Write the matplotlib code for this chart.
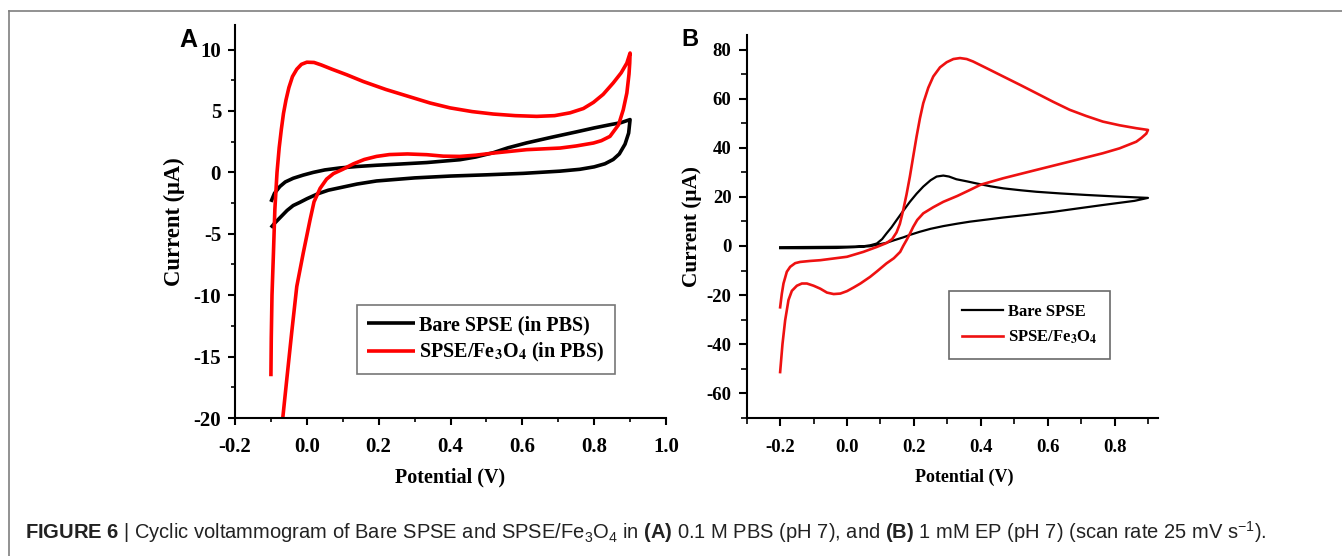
import matplotlib
matplotlib.use("Agg")
import matplotlib.pyplot as plt
from matplotlib.ticker import MultipleLocator
from matplotlib.font_manager import FontProperties
from matplotlib.lines import Line2D

# ---- panel A: 0.1 M PBS ----
a_bare_v = [-0.100, -0.090, -0.075, -0.055, -0.038, -0.020, 0.000, 0.030, 0.060, 0.092,
            0.140, 0.194, 0.300, 0.400, 0.500, 0.603, 0.705, 0.760, 0.800, 0.830,
            0.853, 0.870, 0.886, 0.896, 0.900,
            0.895, 0.875, 0.844, 0.800, 0.751, 0.680, 0.612, 0.560, 0.519, 0.470,
            0.426, 0.334, 0.260, 0.194, 0.140, 0.092, 0.050, 0.018, -0.010, -0.038,
            -0.060, -0.075, -0.090, -0.100]
a_bare_i = [-4.50, -4.15, -3.70, -3.10, -2.70, -2.45, -2.15, -1.75, -1.45, -1.25,
            -0.95, -0.70, -0.45, -0.30, -0.20, -0.08, 0.10, 0.25, 0.45, 0.70,
            1.05, 1.50, 2.30, 3.20, 4.30,
            4.25, 4.05, 3.88, 3.62, 3.30, 2.85, 2.40, 2.00, 1.60, 1.25,
            1.03, 0.80, 0.68, 0.58, 0.48, 0.36, 0.20, 0.00, -0.22, -0.48,
            -0.78, -1.15, -1.70, -2.40]

a_fe_v = [-0.100, -0.099, -0.097, -0.093, -0.089, -0.083, -0.077, -0.071, -0.065, -0.058,
          -0.050, -0.040, -0.028, -0.015, 0.000, 0.020, 0.040, 0.070, 0.111, 0.157,
          0.220, 0.287, 0.343, 0.399, 0.460, 0.519, 0.580, 0.640, 0.690, 0.733,
          0.770, 0.798, 0.825, 0.853, 0.875, 0.891, 0.900,
          0.899, 0.897, 0.891, 0.881, 0.868, 0.844, 0.820, 0.798, 0.750, 0.705,
          0.612, 0.519, 0.470, 0.426, 0.380, 0.334, 0.280, 0.230, 0.194, 0.160,
          0.130, 0.100, 0.074, 0.055, 0.037, 0.020, 0.009, -0.010, -0.028, -0.042,
          -0.056, -0.067, -0.072]
a_fe_i = [-16.60, -13.50, -10.00, -6.60, -3.00, 0.00, 2.00, 3.50, 4.80, 5.90,
          6.90, 7.80, 8.40, 8.80, 8.97, 8.95, 8.75, 8.40, 7.95, 7.40,
          6.75, 6.15, 5.65, 5.25, 4.95, 4.75, 4.62, 4.56, 4.62, 4.85,
          5.20, 5.70, 6.35, 7.28, 8.10, 8.90, 9.72,
          8.90, 8.00, 6.46, 5.10, 3.88, 2.93, 2.58, 2.39, 2.15, 1.98,
          1.85, 1.57, 1.40, 1.30, 1.32, 1.44, 1.50, 1.45, 1.30, 1.05,
          0.70, 0.25, -0.10, -0.55, -1.30, -2.40, -3.86, -6.57, -9.29, -13.00,
          -16.90, -20.00, -21.50]

# ---- panel B: 1 mM EP ----
b_bare_v = [-0.200, -0.100, 0.000, 0.050, 0.070, 0.089, 0.105, 0.118, 0.133, 0.148,
            0.168, 0.188, 0.208, 0.228, 0.250, 0.268, 0.288, 0.305, 0.327, 0.360,
            0.387, 0.430, 0.467, 0.520, 0.566, 0.640, 0.715, 0.800, 0.900,
            0.860, 0.765, 0.690, 0.616, 0.540, 0.467, 0.420, 0.367, 0.330, 0.288,
            0.250, 0.218, 0.190, 0.168, 0.140, 0.118, 0.090, 0.069, 0.020, -0.031,
            -0.130, -0.200]
b_bare_i = [-0.5, -0.4, -0.3, -0.1, 0.3, 1.0, 2.8, 5.1, 7.6, 10.5,
            14.3, 18.0, 21.3, 24.2, 26.8, 28.3, 28.7, 28.3, 27.2, 26.3,
            25.5, 24.3, 23.5, 22.7, 22.1, 21.4, 20.8, 20.2, 19.6,
            18.4, 16.7, 15.3, 13.9, 12.7, 11.6, 10.8, 9.9, 9.1, 8.1,
            7.0, 5.8, 4.6, 3.5, 2.3, 1.3, 0.5, -0.1, -0.5, -0.8,
            -0.9, -0.9]

b_fe_v = [-0.200, -0.195, -0.190, -0.180, -0.170, -0.155, -0.140, -0.110, -0.080, -0.040,
          0.000, 0.049, 0.089, 0.118, 0.135, 0.148, 0.158, 0.168, 0.178, 0.188,
          0.198, 0.208, 0.218, 0.228, 0.243, 0.258, 0.278, 0.298, 0.318, 0.338,
          0.358, 0.377, 0.420, 0.467, 0.520, 0.566, 0.616, 0.666, 0.715, 0.765,
          0.815, 0.865, 0.900,
          0.895, 0.880, 0.865, 0.815, 0.765, 0.666, 0.566, 0.467, 0.400, 0.367,
          0.330, 0.288, 0.258, 0.228, 0.210, 0.198, 0.188, 0.178, 0.168, 0.159,
          0.140, 0.118, 0.090, 0.069, 0.040, 0.020, 0.000, -0.020, -0.040, -0.060,
          -0.080, -0.100, -0.120, -0.135, -0.150, -0.165, -0.175, -0.185, -0.193, -0.200]
b_fe_i = [-25.0, -19.5, -15.3, -10.5, -8.5, -7.0, -6.5, -6.1, -5.8, -5.1,
          -4.4, -2.4, -0.4, 1.2, 2.8, 5.5, 9.0, 14.6, 21.0, 28.3,
          36.5, 44.6, 52.0, 58.2, 64.5, 69.1, 72.8, 74.9, 76.2, 76.6,
          76.2, 75.2, 72.3, 69.1, 65.5, 62.3, 58.8, 55.5, 53.0, 50.7,
          49.2, 48.0, 47.3,
          45.8, 44.0, 42.5, 39.8, 37.8, 34.4, 31.0, 27.6, 25.0, 22.8,
          20.4, 18.0, 15.8, 13.3, 10.6, 7.8, 5.0, 2.4, 0.0, -2.4,
          -5.0, -7.1, -10.3, -12.6, -15.3, -16.9, -18.4, -19.4, -19.6, -19.0,
          -17.4, -16.2, -15.3, -15.3, -16.2, -18.3, -22.0, -30.3, -40.0, -51.4]

SERIF = "Liberation Serif"


def style_axis(ax, tick_size, major_len, minor_len):
    for side in ("top", "right"):
        ax.spines[side].set_visible(False)
    for side in ("left", "bottom"):
        ax.spines[side].set_linewidth(1.5)
    ax.tick_params(which="major", direction="out", length=major_len, width=1.5,
                   labelsize=tick_size, pad=5)
    ax.tick_params(which="minor", direction="out", length=minor_len, width=1.2)
    for lab in ax.get_xticklabels() + ax.get_yticklabels():
        lab.set_fontfamily(SERIF)
        lab.set_fontweight("bold")


def main():
    plt.rcParams["axes.unicode_minus"] = False
    plt.rcParams["mathtext.fontset"] = "custom"
    plt.rcParams["mathtext.rm"] = "Liberation Sans"
    plt.rcParams["mathtext.bf"] = "Liberation Sans:bold"
    plt.rcParams["mathtext.it"] = "Liberation Sans:italic"

    fig = plt.figure(figsize=(13.42, 5.56), dpi=100)

    # panel A
    ax_a = fig.add_axes([235 / 1342, 138 / 556, 431 / 1342, 393 / 556])
    ax_a.plot(a_bare_v, a_bare_i, color="black", lw=2.6, solid_capstyle="butt",
              label="Bare SPSE (in PBS)")
    ax_a.plot(a_fe_v, a_fe_i, color="#ff0000", lw=2.6, solid_capstyle="butt",
              label=r"SPSE/Fe$_\mathbf{3}$O$_\mathbf{4}$ (in PBS)")
    ax_a.set_xlim(-0.2, 1.0)
    ax_a.set_ylim(-20, 12)
    ax_a.xaxis.set_major_locator(MultipleLocator(0.2))
    ax_a.xaxis.set_minor_locator(MultipleLocator(0.1))
    ax_a.yaxis.set_major_locator(MultipleLocator(5))
    ax_a.yaxis.set_minor_locator(MultipleLocator(2.5))
    style_axis(ax_a, 15, 5, 3)
    ax_a.tick_params(axis="x", which="major", pad=9)
    ax_a.set_xlabel("Potential (V)", fontfamily=SERIF, fontweight="bold", fontsize=14.5)
    ax_a.set_ylabel("Current (μA)", fontfamily=SERIF, fontweight="bold", fontsize=16.3)
    ax_a.xaxis.set_label_coords(0.5, -0.125)
    ax_a.yaxis.set_label_coords(-0.116, 0.5)
    prop_a = FontProperties(family=SERIF, weight="bold", size=14.5, math_fontfamily="stix")
    leg_a = ax_a.legend(loc="upper left", bbox_to_anchor=(0.283, 0.2875), prop=prop_a,
                        frameon=True, fancybox=False, borderaxespad=0, handlelength=2.4,
                        handletextpad=0.2, labelspacing=0.3, borderpad=0.5)
    leg_a.get_frame().set_edgecolor("#555555")
    leg_a.get_frame().set_linewidth(1.2)
    fig.text(188 / 1342, 1 - 40 / 556, "A", fontfamily="Liberation Sans", fontweight="bold",
             fontsize=18, ha="center", va="center")

    # panel B
    ax_b = fig.add_axes([746.7 / 1342, 138.3 / 556, 411.3 / 1342, 382.7 / 556])
    ax_b.plot(b_bare_v, b_bare_i, color="black", lw=1.6, label="Bare SPSE")
    ax_b.plot(b_fe_v, b_fe_i, color="#ee1111", lw=1.9,
              label=r"SPSE/Fe$_\mathbf{3}$O$_\mathbf{4}$")
    ax_b.set_xlim(-0.3, 0.93)
    ax_b.set_ylim(-70, 86)
    ax_b.xaxis.set_major_locator(MultipleLocator(0.2))
    ax_b.xaxis.set_minor_locator(MultipleLocator(0.1))
    ax_b.yaxis.set_major_locator(MultipleLocator(20))
    ax_b.yaxis.set_minor_locator(MultipleLocator(10))
    style_axis(ax_b, 13.5, 6, 4)
    ax_b.tick_params(axis="x", which="major", pad=9)
    ax_b.set_xticks([-0.2, 0.0, 0.2, 0.4, 0.6, 0.8])
    ax_b.set_xticklabels(["-0.2", "0.0", "0.2", "0.4", "0.6", "0.8"],
                         fontfamily=SERIF, fontweight="bold")
    ax_b.set_xlabel("Potential (V)", fontfamily=SERIF, fontweight="bold", fontsize=13)
    ax_b.set_ylabel("Current (μA)", fontfamily=SERIF, fontweight="bold", fontsize=15.3)
    ax_b.xaxis.set_label_coords(0.528, -0.134)
    ax_b.yaxis.set_label_coords(-0.109, 0.5)
    prop_b = FontProperties(family=SERIF, weight="bold", size=12, math_fontfamily="stix")
    leg_b = ax_b.legend(loc="upper left", bbox_to_anchor=(0.492, 0.331), prop=prop_b,
                        frameon=True, fancybox=False, borderaxespad=0, handlelength=2.5,
                        handletextpad=0.3, labelspacing=0.55, borderpad=0.75)
    leg_b.get_frame().set_edgecolor("#444444")
    leg_b.get_frame().set_linewidth(1.2)
    fig.text(690 / 1342, 1 - 40 / 556, "B", fontfamily="Liberation Sans", fontweight="bold",
             fontsize=17, ha="center", va="center")

    # frame and caption
    fig.add_artist(Line2D([9.3 / 1342, 9.3 / 1342], [0, 1 - 10.5 / 556],
                          transform=fig.transFigure, color="#7f7f7f", lw=1.2))
    fig.add_artist(Line2D([9.3 / 1342, 1], [1 - 10.5 / 556, 1 - 10.5 / 556],
                          transform=fig.transFigure, color="#7f7f7f", lw=1.2))
    caption = (r"$\mathbf{FIGURE\ 6}$ | Cyclic voltammogram of Bare SPSE and "
               r"SPSE/Fe$_3$O$_4$ in $\mathbf{(A)}$ 0.1 M PBS (pH 7), and "
               r"$\mathbf{(B)}$ 1 mM EP (pH 7) (scan rate 25 mV s$^{-1}$).")
    fig.text(25 / 1342, 17 / 556, caption, fontfamily="Liberation Sans", fontsize=14.5,
             color="#222222", ha="left", va="baseline")

    fig.savefig("out.png", dpi=100)
    plt.close(fig)


if __name__ == "__main__":
    main()
